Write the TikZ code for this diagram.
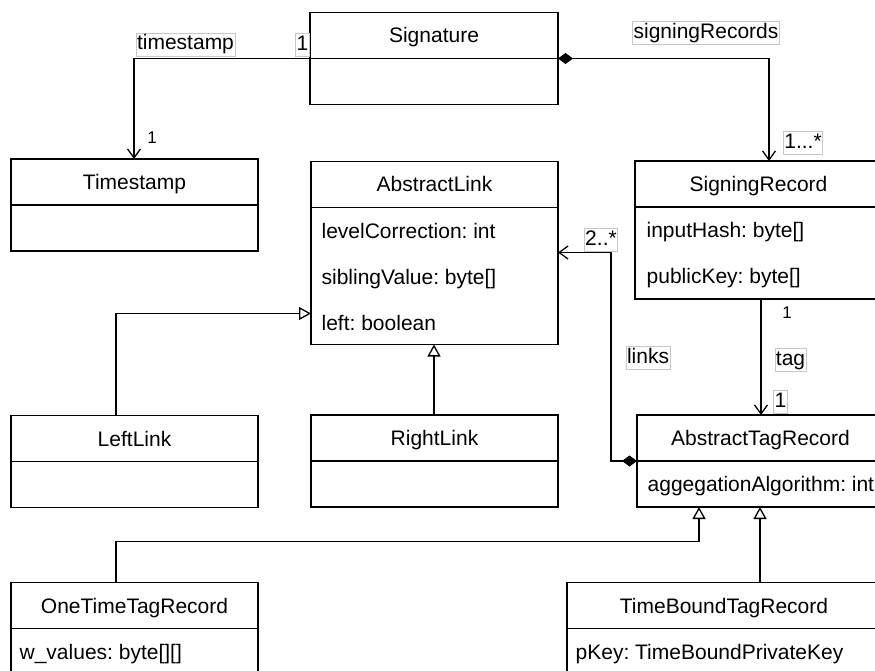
\documentclass[tikz,border=0pt]{standalone}
\usepackage{fontspec}
\setmainfont{Liberation Sans}
\usetikzlibrary{arrows.meta,calc}
\frenchspacing

\begin{document}
\begin{tikzpicture}[x=1pt,y=-1pt,
  every node/.style={font=\fontsize{21}{25}\selectfont},
  line width=1.3pt,
  classtitle/.style={draw, minimum height=46pt, minimum width=247pt, inner sep=0pt, outer sep=0pt,
    text height=17.4pt, text depth=2.4pt, anchor=north west},
  classbody/.style={draw, minimum width=247pt, inner sep=0pt, outer sep=0pt, anchor=north},
  attr/.style={anchor=west, inner sep=0pt, text height=17.4pt, text depth=2.4pt},
  lbl/.style={draw=black!22, line width=0.7pt, fill=white, inner sep=1pt, text height=16pt, text depth=5pt},
  mult/.style={inner sep=0pt, font=\fontsize{17}{20}\selectfont},
  assoc/.style={-{Straight Barb[length=9pt,width=13pt]}},
  compo/.style={{Diamond[length=15pt,width=11pt]}-{Straight Barb[length=9pt,width=13pt]}},
  inherit/.style={-{Triangle[open,fill=white,length=12pt,width=13pt]}},
]
\useasboundingbox (0,0) rectangle (875,671);
\clip (0,0) rectangle (875,671);

% classes
\node[classtitle, minimum width=248pt] (sigT) at (310,12.5) {Signature};
\node[classbody, minimum width=248pt, minimum height=46pt] (sigB) at (sigT.south) {};

\node[classtitle] (tsT) at (11,159) {Timestamp};
\node[classbody, minimum height=46pt] (tsB) at (tsT.south) {};

\node[classtitle] (alT) at (311,161.5) {AbstractLink};
\node[classbody, minimum height=137pt] (alB) at (alT.south) {};
\node[attr] at ($(alB.north west)+(10,23)$) {levelCorrection: int};
\node[attr] at ($(alB.north west)+(10,69)$) {siblingValue: byte[]};
\node[attr] at ($(alB.north west)+(10,115)$) {left: boolean};

\node[classtitle] (srT) at (635,161) {SigningRecord};
\node[classbody, minimum height=92pt] (srB) at (srT.south) {};
\node[attr] at ($(srB.north west)+(11,23)$) {inputHash: byte[]};
\node[attr] at ($(srB.north west)+(11,69)$) {publicKey: byte[]};

\node[classtitle] (llT) at (11,415.5) {LeftLink};
\node[classbody, minimum height=46pt] (llB) at (llT.south) {};

\node[classtitle] (rlT) at (311,415) {RightLink};
\node[classbody, minimum height=46pt] (rlB) at (rlT.south) {};

\node[classtitle] (atrT) at (637,415) {AbstractTagRecord};
\node[classbody, minimum height=46pt] (atrB) at (atrT.south) {};
\node[attr] at ($(atrB.north west)+(10,23)$) {aggegationAlgorithm: int};

\node[classtitle] (otT) at (11,582.5) {OneTimeTagRecord};
\node[classbody, minimum height=60pt] (otB) at (otT.south) {};
\node[attr] at ($(otB.north west)+(8,23)$) {w\_values: byte[][]};

\node[classtitle, minimum width=314pt] (tbT) at (567,582.5) {TimeBoundTagRecord};
\node[classbody, minimum width=314pt, minimum height=60pt] (tbB) at (tbT.south) {};
\node[attr] at ($(tbB.north west)+(8,23)$) {pKey: TimeBoundPrivateKey};

% associations
\draw[assoc] (sigT.south west) -| ([xshift=123pt]tsT.north west);
\draw[compo] (sigT.south east) -| ([xshift=134pt]srT.north west);
\draw[assoc] ([xshift=126pt]srB.south west) -- ([xshift=124pt]atrT.north west);
\draw[compo] (atrT.south west) -- ++(-26,0) |- ([yshift=-45pt]alB.north east);

% generalizations
\draw[inherit] ([xshift=105pt]llT.north west) |- ([yshift=-106pt]alB.north west);
\draw[inherit] ([xshift=123pt]rlT.north west) -- ([xshift=123pt]alB.south west);
\draw[inherit] ([xshift=105pt]otT.north west) -- ++(0,-41) -| ([xshift=62pt]atrB.south west);
\draw[inherit] ([xshift=193pt]tbT.north west) -- ([xshift=123pt]atrB.south west);

% role names and multiplicities
\node[lbl] (lts) at (185.5,44.5) {timestamp};
\node[lbl] (mts1) at (302.5,45) {1};
\node[mult] (mts2) at (152,138) {1};
\node[lbl] (lsr) at (706,33) {signingRecords};
\node[lbl] (msr) at (803,143) {1...*};
\node[mult] (mtag1) at (787,313) {1};
\node[lbl] (ltag) at (790.5,360) {tag};
\node[lbl] (mtag2) at (780.5,402) {1};
\node[lbl] (mlnk) at (601,239.5) {2..*};
\node[lbl] (llnk) at (648,357.5) {links};
\end{tikzpicture}
\end{document}
